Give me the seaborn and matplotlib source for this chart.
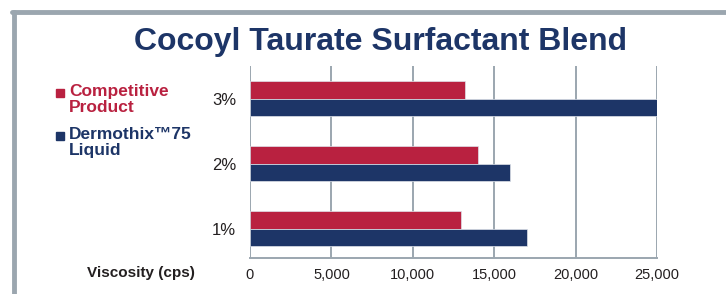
import pandas as pd
import matplotlib.pyplot as plt
import matplotlib.ticker as mticker
from matplotlib.patches import Rectangle
from matplotlib.lines import Line2D
import seaborn as sns

# data
concentrations = ['3%', '2%', '1%']
products = ['Competitive Product', 'Dermothix\u2122 75 Liquid']
competitive = [13200, 14000, 12950]
dermothix = [25000, 16000, 17000]
x_ticks = [0, 5000, 10000, 15000, 20000, 25000]

red = '#b92140'
navy = '#1d3567'
gray = '#9ba6af'

df = pd.DataFrame({
    'Concentration': concentrations * 2,
    'Product': [products[0]] * 3 + [products[1]] * 3,
    'Viscosity': competitive + dermothix,
})

sns.set_style('white')
plt.rcParams['font.family'] = ['Liberation Sans', 'DejaVu Sans']

fig = plt.figure(figsize=(7.26, 2.94), dpi=100)
ax = fig.add_axes([250 / 726, 1 - 258 / 294, 407 / 726, 192 / 294])

sns.barplot(data=df, y='Concentration', x='Viscosity', hue='Product',
            order=concentrations, hue_order=products, orient='h',
            palette=[red, navy], width=0.54, legend=False, ax=ax,
            edgecolor='#dfe3ea', linewidth=0.5, saturation=1)

ax.set_xlim(0, 25000)
ax.set_ylim(2.45, -0.5)
ax.set_xticks(x_ticks)
ax.xaxis.set_major_formatter(mticker.FuncFormatter(lambda v, p: f'{int(v):,}'))
ax.grid(axis='x', color=gray, linewidth=1.4)
ax.grid(axis='y', visible=False)
ax.set_axisbelow(True)
for s in ['top', 'right', 'left']:
    ax.spines[s].set_visible(False)
ax.spines['bottom'].set_color(gray)
ax.spines['bottom'].set_linewidth(1.4)
ax.tick_params(axis='both', length=0)
ax.tick_params(axis='x', pad=7, labelsize=10.5, labelcolor='#231f20')
ax.tick_params(axis='y', pad=10, labelsize=12, labelcolor='#231f20')
ax.set_xlabel('')
ax.set_ylabel('')

# x label on the left
fig.text(195 / 726, 1 - 273 / 294, 'Viscosity (cps)', ha='right', va='center',
         fontsize=11, fontweight='bold', color='#231f20')

# title
fig.text(381 / 726, 1 - 42 / 294, 'Cocoyl Taurate Surfactant Blend', ha='center',
         va='center', fontsize=23, fontweight='bold', color=navy)

# legend
legend_labels = ['Competitive\nProduct', 'Dermothix\u212275\nLiquid']
legend_top = [84, 127]
for lab, col, top in zip(legend_labels, [red, navy], legend_top):
    fig.text(69 / 726, 1 - top / 294, lab, ha='left', va='top', fontsize=12.5,
             fontweight='bold', color=col, linespacing=1.05)
    fig.add_artist(Rectangle((56 / 726, 1 - (top + 13) / 294), 8 / 726, 8 / 294,
                             transform=fig.transFigure, color=col))

# frame
fig.add_artist(Line2D([12 / 726, 1], [1 - 12 / 294] * 2, color=gray, linewidth=3.5,
                      transform=fig.transFigure))
fig.add_artist(Line2D([14 / 726] * 2, [0, 1 - 12 / 294], color=gray, linewidth=3.5,
                      transform=fig.transFigure))

fig.savefig('out.png', dpi=100)
